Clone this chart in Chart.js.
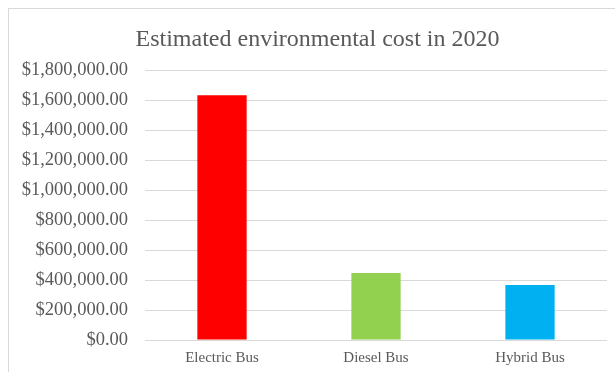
<!DOCTYPE html>
<html>
<head>
<meta charset="utf-8">
<script src="https://cdn.jsdelivr.net/npm/chart.js@4"></script>
<style>
    body { margin: 0; background: #fff; }
    #wrap { position: relative; width: 615px; height: 372px; overflow: hidden; }
    #frame { position: absolute; left: 8px; top: 8px; width: 620px; height: 380px; border: 1px solid #d9d9d9; box-sizing: border-box; }
    #costChart { position: absolute; left: 0; top: 0; }
</style>
</head>
<body>
<div id="wrap">
    <div id="frame"></div>
    <canvas id="costChart" width="615" height="372"></canvas>
</div>
<script>
const categories = ['Electric Bus', 'Diesel Bus', 'Hybrid Bus']
const costs = [1633000, 447000, 367000]
const yMax = 1800000
const yStep = 200000

const barColors = ['#ff0000', '#92d050', '#00b0f0']
const textColor = '#595959'
const serif = "'Liberation Serif', 'Times New Roman', serif"

function money(value) {
    return '$' + value.toLocaleString('en-US', { minimumFractionDigits: 2, maximumFractionDigits: 2 })
}

// title sits a bit right of the canvas centre
const titleShift = {
    id: 'titleShift',
    afterLayout(chart) {
        if (chart.titleBlock) chart.titleBlock.left += 28
    }
}

const ctx = document.getElementById('costChart').getContext('2d')
const costChart = new Chart(ctx, {
    type: 'bar',
    data: {
        labels: categories,
        datasets: [{
            data: costs,
            backgroundColor: barColors,
            borderWidth: 0,
            barPercentage: 0.64,
            categoryPercentage: 0.5
        }]
    },
    options: {
        responsive: false,
        animation: false,
        layout: {
            padding: { top: 25, right: 8, bottom: 4.5, left: 0 }
        },
        plugins: {
            legend: { display: false },
            tooltip: { enabled: false },
            title: {
                display: true,
                text: 'Estimated environmental cost in 2020',
                color: textColor,
                font: { family: serif, size: 24, weight: 'normal' },
                padding: { top: 0, bottom: 16.5 }
            }
        },
        scales: {
            x: {
                afterFit: (scale) => { scale.height = 27.5 },
                grid: { display: false, drawTicks: false },
                border: { display: false },
                ticks: {
                    color: textColor,
                    padding: 9.5,
                    font: { family: serif, size: 15 }
                }
            },
            y: {
                min: 0,
                max: yMax,
                afterFit: (scale) => { scale.width = 145 },
                grid: { color: '#d9d9d9', drawTicks: false },
                border: { display: false },
                ticks: {
                    stepSize: yStep,
                    color: textColor,
                    padding: 17,
                    font: { family: serif, size: 18.5 },
                    callback: (value) => money(value)
                }
            }
        }
    },
    plugins: [titleShift]
})
</script>
</body>
</html>
